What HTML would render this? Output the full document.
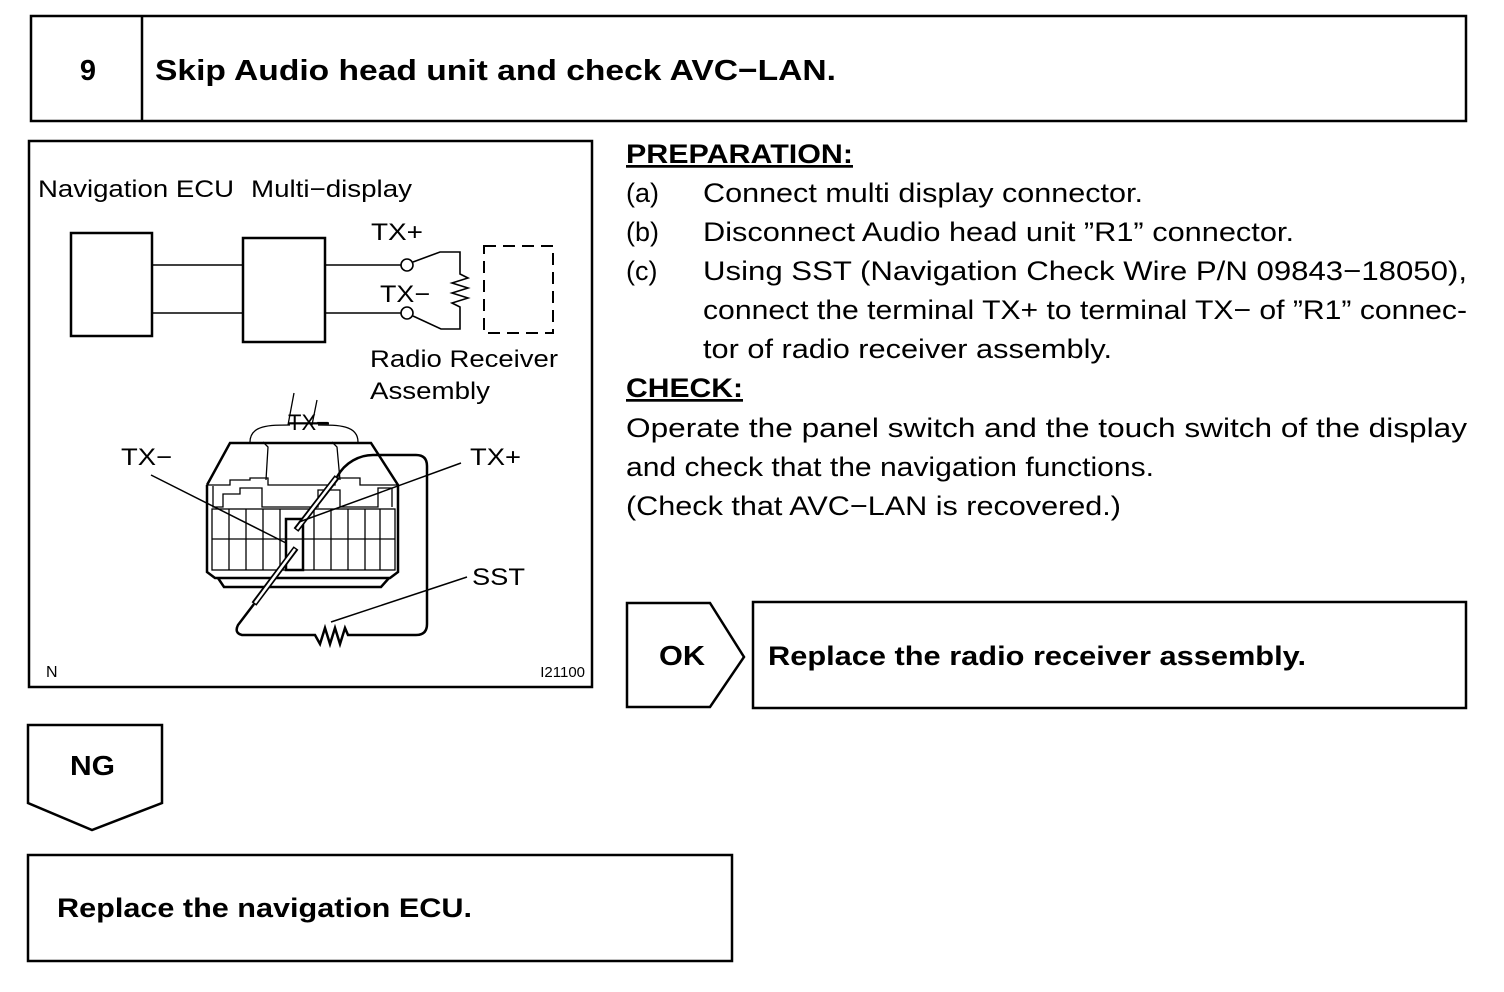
<!DOCTYPE html>
<html><head><meta charset="utf-8"><style>
html,body{margin:0;padding:0;background:#fff;}
svg{display:block;}
text{font-family:"Liberation Sans",Arial,sans-serif;fill:#000;}
.b{font-weight:bold;}
</style></head><body>
<svg width="1504" height="992" viewBox="0 0 1504 992" xmlns="http://www.w3.org/2000/svg">
<g fill="none" stroke="#000" stroke-width="2.5">
<rect x="31" y="16" width="1435" height="105"/>
<line x1="142" y1="16" x2="142" y2="121"/>
<rect x="29" y="141" width="563" height="546"/>
<polygon points="627,603 710,603 744,657 710,707 627,707"/>
<rect x="753" y="602" width="713" height="106"/>
<polygon points="28,725 162,725 162,803 92,830 28,803"/>
<rect x="28" y="855" width="704" height="106"/>
</g>
<text x="88" y="80" class="b" font-size="29" text-anchor="middle">9</text>
<text x="155" y="80" class="b" font-size="29" textLength="681" lengthAdjust="spacingAndGlyphs">Skip Audio head unit and check AVC−LAN.</text>

<g fill="none" stroke="#000" stroke-width="2.5">
<rect x="71" y="233" width="81" height="103"/>
<rect x="243" y="238" width="82" height="104"/>
</g>
<g fill="none" stroke="#000" stroke-width="1.6">
<line x1="152" y1="265" x2="243" y2="265"/>
<line x1="152" y1="313" x2="243" y2="313"/>
<line x1="325" y1="265" x2="401" y2="265"/>
<line x1="325" y1="313" x2="401" y2="313"/>
<circle cx="407" cy="265" r="6"/>
<circle cx="407" cy="313" r="6"/>
<polyline points="413,262 440,252 460,252 460,274 468,278 452,283 468,288 452,293 468,298 452,303 460,307 460,329 441,329 413,316"/>
<rect x="484" y="246" width="69" height="87" stroke-dasharray="12,7" stroke-width="2"/>
</g>
<g font-size="24" lengthAdjust="spacingAndGlyphs">
<text x="38" y="197" textLength="196" lengthAdjust="spacingAndGlyphs">Navigation ECU</text>
<text x="251" y="197" textLength="161" lengthAdjust="spacingAndGlyphs">Multi−display</text>
<text x="371" y="240" textLength="52" lengthAdjust="spacingAndGlyphs">TX+</text>
<text x="380" y="302" textLength="50" lengthAdjust="spacingAndGlyphs">TX−</text>
<text x="370" y="367" textLength="188" lengthAdjust="spacingAndGlyphs">Radio Receiver</text>
<text x="370" y="399" textLength="120" lengthAdjust="spacingAndGlyphs">Assembly</text>
</g>

<g fill="none" stroke="#000" stroke-width="2.5">
<polyline points="207,485 230,443 371,443 398,485 398,572 390,578 215,578 207,572 207,485"/>
<polyline points="218,578 224,587 381,587 389,578"/>
</g>
<g fill="none" stroke="#000" stroke-width="1.3">
<rect x="212" y="509" width="183" height="61"/>
<line x1="212" y1="539" x2="395" y2="539"/>
<line x1="229" y1="509" x2="229" y2="570"/><line x1="246" y1="509" x2="246" y2="570"/>
<line x1="263" y1="509" x2="263" y2="570"/><line x1="280" y1="509" x2="280" y2="570"/>
<line x1="314" y1="509" x2="314" y2="570"/><line x1="331" y1="509" x2="331" y2="570"/>
<line x1="348" y1="509" x2="348" y2="570"/><line x1="365" y1="509" x2="365" y2="570"/>
<line x1="380" y1="509" x2="380" y2="570"/>
<polyline points="207,485 230,485 230,480 250,480 250,478 268,478 268,485 335,485 335,478 360,478 360,485 398,485"/>
<polyline points="213,486 213,507 223,507 223,494 240,494 240,488 262,488 262,507 318,507 318,490 340,490 340,507 378,507 378,488 392,488 392,507"/>
<polyline points="263,442 268,447 266,480"/><polyline points="332,442 337,447 340,480"/>
<path d="M250,442 C250,425 270,425 290,425"/><path d="M358,442 C358,425 338,425 318,425"/>
<path d="M288,425 L294,393 M312,425 L317,400"/>
</g>
<rect x="286" y="519" width="17" height="51" fill="none" stroke="#000" stroke-width="2.5"/>
<text x="288" y="430" font-size="22" text-decoration="line-through">TX−</text>
<g fill="none" stroke="#000">
<line x1="296" y1="530" x2="337" y2="477" stroke-width="6"/>
<line x1="297" y1="529" x2="336" y2="478" stroke="#fff" stroke-width="2.5"/>
<line x1="296" y1="548" x2="254" y2="604" stroke-width="6"/>
<line x1="295" y1="549" x2="255" y2="603" stroke="#fff" stroke-width="2.5"/>
<path d="M337,477 C345,462 360,455 373,455 L416,455 Q427,455 427,466 L427,624 Q427,635 416,635 L348,635 L345,628 L340,644 L335,628 L330,644 L325,628 L320,644 L315,635 L242,635 Q234,633 238,625 L254,604" stroke-width="2.5"/>
<line x1="151" y1="475" x2="286" y2="543" stroke-width="1.5"/>
<line x1="461" y1="463" x2="299" y2="522" stroke-width="1.5"/>
<line x1="467" y1="577" x2="331" y2="622" stroke-width="1.5"/>
</g>
<text x="121" y="465" font-size="24" textLength="51" lengthAdjust="spacingAndGlyphs">TX−</text>
<text x="470" y="465" font-size="24" textLength="51" lengthAdjust="spacingAndGlyphs">TX+</text>
<text x="472" y="585" font-size="24" textLength="53" lengthAdjust="spacingAndGlyphs">SST</text>
<text x="46" y="677" font-size="16">N</text>
<text x="585" y="677" font-size="15" text-anchor="end">I21100</text>

<g font-size="27">
<text x="626" y="163" class="b" text-decoration="underline" textLength="227" lengthAdjust="spacingAndGlyphs">PREPARATION:</text>
<text x="626" y="202">(a)</text><text x="703" y="202" textLength="440" lengthAdjust="spacingAndGlyphs">Connect multi display connector.</text>
<text x="626" y="241">(b)</text><text x="703" y="241" textLength="591" lengthAdjust="spacingAndGlyphs">Disconnect Audio head unit ”R1” connector.</text>
<text x="626" y="280">(c)</text><text x="703" y="280" textLength="764" lengthAdjust="spacingAndGlyphs">Using SST (Navigation Check Wire P/N 09843−18050),</text>
<text x="703" y="319" textLength="764" lengthAdjust="spacingAndGlyphs">connect the terminal TX+ to terminal TX− of ”R1” connec-</text>
<text x="703" y="358" textLength="409" lengthAdjust="spacingAndGlyphs">tor of radio receiver assembly.</text>
<text x="626" y="397" class="b" text-decoration="underline" textLength="117" lengthAdjust="spacingAndGlyphs">CHECK:</text>
<text x="626" y="437" textLength="841" lengthAdjust="spacingAndGlyphs">Operate the panel switch and the touch switch of the display</text>
<text x="626" y="476" textLength="528" lengthAdjust="spacingAndGlyphs">and check that the navigation functions.</text>
<text x="626" y="515" textLength="495" lengthAdjust="spacingAndGlyphs">(Check that AVC−LAN is recovered.)</text>
</g>
<text x="659" y="665" class="b" font-size="28" textLength="46" lengthAdjust="spacingAndGlyphs">OK</text>
<text x="768" y="665" class="b" font-size="27" textLength="538" lengthAdjust="spacingAndGlyphs">Replace the radio receiver assembly.</text>
<text x="70" y="775" class="b" font-size="28" textLength="45" lengthAdjust="spacingAndGlyphs">NG</text>
<text x="57" y="917" class="b" font-size="27" textLength="415" lengthAdjust="spacingAndGlyphs">Replace the navigation ECU.</text>
</svg>
</body></html>
